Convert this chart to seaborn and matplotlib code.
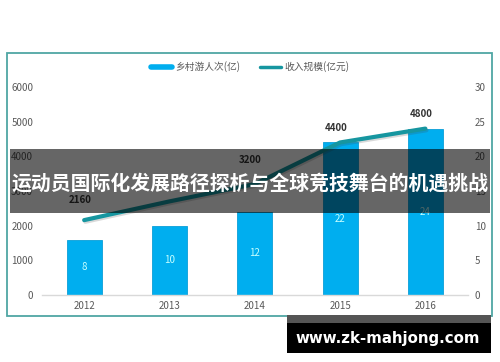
import matplotlib
matplotlib.use("Agg")
import matplotlib.pyplot as plt
import seaborn as sns
import pandas as pd
from matplotlib.lines import Line2D
from matplotlib.patches import Rectangle
import matplotlib.patheffects as pe

years = ["2012", "2013", "2014", "2015", "2016"]
visitors = [8, 10, 12, 22, 24]              # 乡村游人次(亿) - bars, right axis
income = [2160, 2700, 3200, 4400, 4800]     # 收入规模(亿元) - line, left axis
income_labels = ["2160", "", "3200", "4400", "4800"]
left_ticks = [0, 1000, 2000, 3000, 4000, 5000, 6000]
right_ticks = [0, 5, 10, 15, 20, 25, 30]
legend_names = ["乡村游人次(亿)", "收入规模(亿元)"]
banner_text = "运动员国际化发展路径探析与全球竞技舞台的机遇挑战"
watermark = "www.zk-mahjong.com"

sns.set_theme(style="white")
plt.rcParams['font.family'] = ['Noto Sans CJK SC', 'DejaVu Sans']

W, H = 500, 362
fig = plt.figure(figsize=(W / 100, H / 100), dpi=100)
fig.patch.set_facecolor("white")

def fx(px):
    return px / W

def fy(py):
    return 1 - py / H

ax = fig.add_axes([fx(41.5), fy(295), fx(468) - fx(41.5), fy(87) - fy(295)])
ax2 = ax.twinx()

df = pd.DataFrame({"year": years, "visitors": visitors, "income": income})

bar_color = "#00AEEF"
line_color = "#1696A0"
tick_color = "#595959"

sns.barplot(data=df, x="year", y="visitors", ax=ax2, color=bar_color,
            width=0.41, saturation=1, edgecolor="#0A9FD8", linewidth=0.6)
ax2.set_ylim(0, 30)
ax2.set_yticks(right_ticks)
for p, v in zip(ax2.patches, visitors):
    ax2.text(p.get_x() + p.get_width() / 2, v / 2, str(v), ha="center", va="center",
             fontsize=7, color="#C6FFFF")

sns.lineplot(data=df, x="year", y="income", ax=ax, color=line_color, linewidth=3,
             sort=False,
             path_effects=[pe.SimpleLineShadow(offset=(0.8, -1.2), shadow_color="#444444", alpha=0.2),
                           pe.Normal()])
ax.set_ylim(0, 6000)
ax.set_yticks(left_ticks)
ax.set_xlim(-0.5, 4.5)
offsets = [11, 11, 14, 7, 7]
for i, (v, lab) in enumerate(zip(income, income_labels)):
    if lab:
        ax.annotate(lab, (i, v), xytext=(-3, offsets[i]), textcoords="offset points",
                    ha="center", va="bottom", fontsize=7, fontweight="bold", color="#333333")

ax.set_zorder(ax2.get_zorder() + 1)
ax.patch.set_visible(False)

for a in (ax, ax2):
    a.set_xlabel("")
    a.set_ylabel("")
    for s in a.spines.values():
        s.set_visible(False)
    a.tick_params(length=0, labelsize=7, colors=tick_color)
ax.spines["bottom"].set_visible(True)
ax.spines["bottom"].set_color("#D9D9D9")
ax.spines["bottom"].set_linewidth(1)
ax.tick_params(axis="y", pad=6)
ax.tick_params(axis="x", pad=4)
ax2.tick_params(axis="y", pad=5)

# legend
handles = [Line2D([0], [0], color=bar_color, lw=4),
           Line2D([0], [0], color=line_color, lw=2.5)]
fig.legend(handles, legend_names, loc="center", bbox_to_anchor=(fx(250), fy(67)),
           ncol=2, frameon=False, fontsize=7, handlelength=2.2, handletextpad=0.3,
           columnspacing=2.0, labelcolor="#595959")

# outer frame
fig.add_artist(Rectangle((fx(7), fy(316)), fx(492) - fx(7), fy(53) - fy(316),
                         transform=fig.transFigure, fill=False, edgecolor="#4FA6A4", lw=1.3))

# banner overlay
fig.add_artist(Rectangle((fx(10), fy(213)), fx(490) - fx(10), fy(149) - fy(213),
                         transform=fig.transFigure, facecolor="black", alpha=0.6,
                         edgecolor="none", zorder=10))
fig.text(fx(250), fy(183), banner_text, ha="center", va="center", color="white",
         fontsize=14.3, fontweight="bold", zorder=11)

# watermark
fig.add_artist(Rectangle((fx(287), fy(323)), fx(491) - fx(287), fy(315) - fy(323),
                         transform=fig.transFigure, facecolor="#555555",
                         edgecolor="none", zorder=10))
fig.add_artist(Rectangle((fx(287), fy(353)), fx(491) - fx(287), fy(323) - fy(353),
                         transform=fig.transFigure, facecolor="black",
                         edgecolor="none", zorder=10))
fig.text(fx(388), fy(338), watermark, ha="center", va="center", color="white",
         fontsize=10.8, fontweight="bold", family=["DejaVu Sans"], zorder=11)

fig.savefig("out.png", dpi=100)
